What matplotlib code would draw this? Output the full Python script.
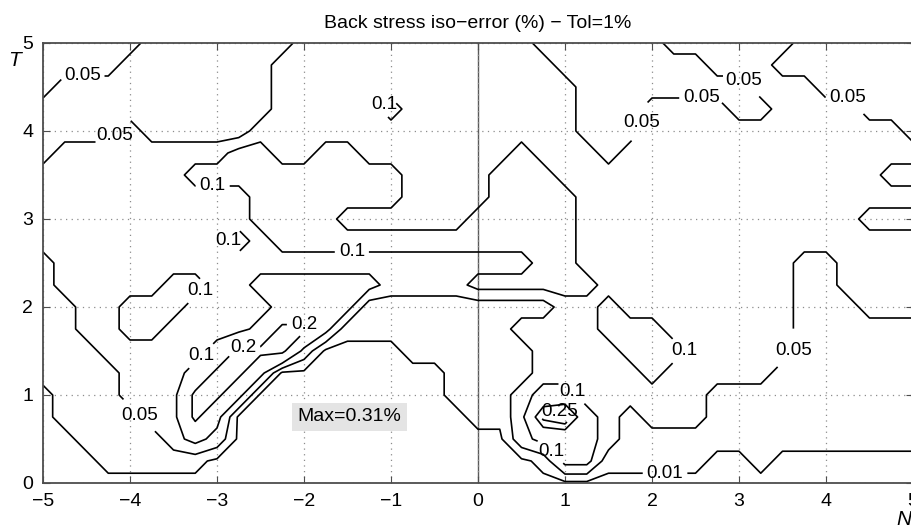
import matplotlib.pyplot as plt
import numpy as np

# N on x, T on y; iso-error map sampled every 0.25
n_values = np.linspace(-5.0, 5.0, 41)
t_values = np.linspace(0.0, 5.0, 21)

# error (%) of each band letter used in the rows below
band_values = {"a": 0.002, "b": 0.02, "c": 0.08, "d": 0.12,
               "e": 0.22, "g": 0.27, "f": 0.31}

# runs of bands along N, one string per T row, T = 0 first
band_rows = [
    "a41",
    "a3 b5 a15 b1 d2 b5 a2 b1 a7",
    "a2 b4 c1 d1 c1 a13 c1 d3 c1 b14",
    "a1 b4 c2 e1 d1 a11 b2 c1 g1 f1 d1 c1 b1 c3 b10",
    "a1 b3 c3 e2 d1 a9 b3 c1 d2 c6 b10",
    "b4 c3 d1 e2 d1 a8 b4 c5 d1 c5 b7",
    "b3 c5 d1 e3 c1 a4 b6 c4 d3 c5 b6",
    "b2 c2 d2 c4 d1 e2 d1 b8 c4 d3 c6 b6",
    "b2 c2 d3 c4 d4 b9 c2 d1 c8 b3 c3",
    "b1 c5 d2 c2 d6 c4 d6 c9 b2 c4",
    "b1 c22 d2 c10 b2 c4",
    "c9 d1 c1 d14 c16",
    "c10 d4 c6 d5 c13 b3",
    "c10 d7 c4 d4 c16",
    "c7 d10 c4 d3 c15 b2",
    "b1 c8 d2 c2 d2 c7 d1 c3 b1 c14",
    "b4 c1 b5 c15 b3 c12 b1",
    "b11 c5 d1 c8 b3 c4 b2 c4 b3",
    "c1 b10 c14 b8 c3 b5",
    "c4 b7 c13 b7 c3 b7",
    "c5 b7 c11 b6 c6 b6",
]

levels = [0.01, 0.05, 0.1, 0.2, 0.25]

# spots where the contour labels go
label_spots = [
    (-4.55, 4.52), (-4.2, 3.98), (-1.05, 4.27), (-3.05, 3.24), (-2.97, 2.70),
    (-1.45, 2.70), (-3.2, 2.19), (-1.97, 1.91), (-3.25, 1.51), (-2.7, 1.53),
    (-3.75, 0.91), (1.95, 4.10), (2.57, 4.54), (3.15, 4.67), (4.64, 4.79),
    (2.84, 1.91), (3.72, 1.45), (1.30, 1.25), (0.94, 0.80), (0.91, 0.43),
    (2.15, 0.17),
]


def expand_row(spec):
    cells = []
    for token in spec.split():
        cells += [band_values[token[0]]] * int(token[1:])
    return cells


Z = np.array([expand_row(r) for r in band_rows])
N, T = np.meshgrid(n_values, t_values)

plt.rcParams["font.family"] = ["Liberation Sans", "DejaVu Sans"]

fig = plt.figure(figsize=(9.12, 5.3), dpi=100)
ax = fig.add_axes([0.04715, 0.08868, 0.95395, 0.83019])

cs = ax.contour(N, T, Z, levels=levels, colors="black", linewidths=1.2)
labels = ax.clabel(cs, fmt=lambda v: f"{v:g}", fontsize=13.5, inline=True,
                   inline_spacing=4, manual=label_spots)
for lab in labels:
    lab.set_rotation(0)

ax.axvline(0, color="0.35", linewidth=1.0, zorder=1)

ax.set_xlim(-5, 5)
ax.set_ylim(0, 5)
ax.set_xticks(np.arange(-5, 6, 1))
ax.set_yticks(np.arange(0, 6, 1))
ax.set_xticklabels([str(v).replace("-", "\u2212") for v in range(-5, 6)])
ax.tick_params(direction="in", top=True, right=True, length=5,
               labelsize=14, color="0.3", pad=7)
ax.grid(True, color="0.55", linestyle=(0, (1, 3.5)), linewidth=0.9)
for spine in ax.spines.values():
    spine.set_color("0.3")
    spine.set_linewidth(1.3)

ax.set_title("Back stress iso\u2212error (%) \u2212 Tol=1%", fontsize=14, pad=11)
fig.text(0.016, 0.885, "T", fontsize=15, style="italic", ha="center", va="center")
fig.text(0.999, 0.02, "N", fontsize=15, style="italic", ha="right", va="center")

ax.text(-1.48, 0.75, f"Max={Z.max():.2f}%", fontsize=14, ha="center", va="center",
        bbox=dict(facecolor="#e4e4e4", edgecolor="none", pad=4))

fig.savefig("out.png", dpi=100)
